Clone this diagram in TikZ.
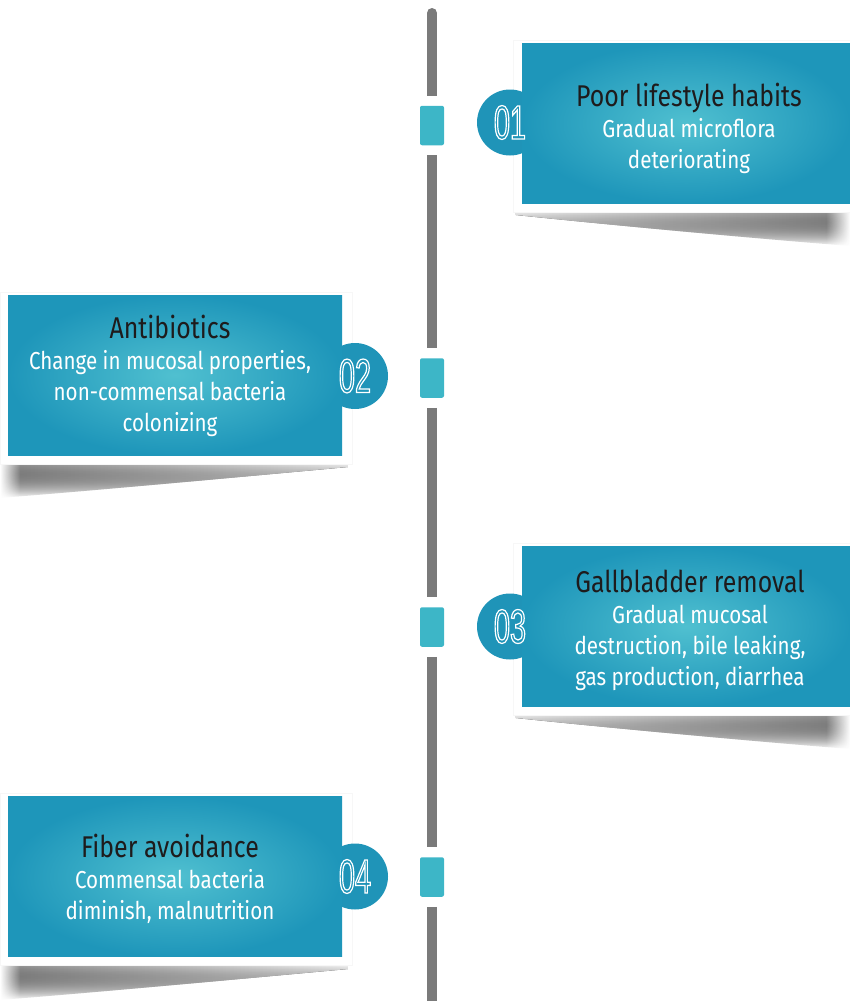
\documentclass[tikz,border=0pt]{standalone}
\usepackage{fontspec}
\newfontfamily\titlefont{Fira Sans}[FakeStretch=0.83]
\newfontfamily\subfont{Fira Sans}[FakeStretch=0.84]
\newfontfamily\numfont{Liberation Sans}[FakeStretch=0.6]
\usetikzlibrary{fadings}
\definecolor{boxouter}{HTML}{1E96BA}
\definecolor{boxinner}{HTML}{50C0D0}
\definecolor{circ}{HTML}{1F94B8}
\definecolor{sqc}{HTML}{3DB6C7}
\definecolor{linec}{HTML}{7A7A7A}
\definecolor{titlec}{HTML}{1E1B1C}
\newcommand\outlinedigits[1]{\special{pdf:literal direct 1 Tr 1.2 w}#1\special{pdf:literal direct 0 Tr}}
\tikzset{
  tl/.style={draw=linec, line width=10pt, line cap=butt},
  sqbox/.style={rectangle, rounded corners=2pt, fill=sqc, minimum width=24pt, minimum height=39.5pt, inner sep=0pt},
  card/.style={rectangle, fill=white, draw=black!3, line width=0.6pt, minimum width=337pt, minimum height=172pt, inner sep=0pt},
  lcard/.style={card, minimum width=352pt},
  box/.style={rectangle, inner color=boxinner, outer color=boxouter, minimum width=328pt, minimum height=160pt, inner sep=0pt},
  lbox/.style={box, minimum width=334pt},
  numcirc/.style={circle, fill=circ, minimum size=66pt, inner sep=0pt},
  numtext/.style={text=white, font=\numfont\fontsize{48}{48}\selectfont, inner sep=0pt},
  txt/.style={align=center, inner sep=0pt, text=white, font=\subfont\fontsize{24.5}{31}\selectfont},
  rshadow/.style={left color=black!8, right color=black!45, path fading=south},
  lshadow/.style={left color=black!45, right color=black!8, path fading=south},
}
\newcommand\ttl[1]{{\titlefont\fontsize{30}{31}\selectfont\color{titlec}#1}}
\begin{document}
\begin{tikzpicture}[x=1pt,y=-1pt]
\useasboundingbox (0,0) rectangle (850,1001);
% timeline squares
\node[sqbox] (sq1) at (432,125.5) {};
\node[sqbox] (sq2) at (432,378) {};
\node[sqbox] (sq3) at (432,627) {};
\node[sqbox] (sq4) at (432,877) {};
\coordinate (top) at (432,13);
\coordinate (bot) at (432,1001);
\fill[linec] (top) circle (5pt);
\draw[tl] (top) -- ([yshift=10pt]sq1.north);
\draw[tl] ([yshift=-10pt]sq1.south) -- ([yshift=10pt]sq2.north);
\draw[tl] ([yshift=-10pt]sq2.south) -- ([yshift=10pt]sq3.north);
\draw[tl] ([yshift=-10pt]sq3.south) -- ([yshift=10pt]sq4.north);
\draw[tl] ([yshift=-10pt]sq4.south) -- (bot);
% shadows
\fill[rshadow] (516,212) -- (850,212) -- (850,246) .. controls (750,238) and (620,226) .. (516,215) -- cycle;
\fill[rshadow] (516,715) -- (850,715) -- (850,749) .. controls (750,741) and (620,729) .. (516,718) -- cycle;
\fill[lshadow] (0,464) -- (348,464) -- (348,467) .. controls (230,478) and (100,490) .. (0,498) -- cycle;
\fill[lshadow] (0,966) -- (348,966) -- (348,969) .. controls (230,980) and (100,992) .. (0,1000) -- cycle;
\fill[white, path fading=west] (826,208) rectangle (850,256);
\fill[white, path fading=west] (826,711) rectangle (850,759);
\fill[white, path fading=east] (0,460) rectangle (20,508);
\fill[white, path fading=east] (0,962) rectangle (20,1001);
% cards
\node[card] (k1) at (681.5,126) {};
\node[lcard] (k2) at (176,378) {};
\node[card] (k3) at (681.5,629) {};
\node[lcard] (k4) at (176,879.5) {};
% circles
\node[numcirc] (c1) at (510,122.5) {};
\node[numcirc] (c2) at (355,376) {};
\node[numcirc] (c3) at (510,626.5) {};
\node[numcirc] (c4) at (355,876.5) {};
% boxes
\node[box] (b1) at (686,123) {};
\node[lbox] (b2) at (175,375) {};
\node[box] (b3) at (686,626) {};
\node[lbox] (b4) at (175,876.5) {};
% numbers
\node[numtext] (n1) at (c1.center) {\outlinedigits{01}};
\node[numtext] (n2) at (c2.center) {\outlinedigits{02}};
\node[numtext] (n3) at (c3.center) {\outlinedigits{03}};
\node[numtext] (n4) at (c4.center) {\outlinedigits{04}};
% texts
\node[txt] (t1) at (689,128) {\ttl{Poor lifestyle habits}\\Gradual microflora\\deteriorating};
\node[txt] (t2) at (170,376) {\ttl{Antibiotics}\\Change in mucosal properties,\\non-commensal bacteria\\colonizing};
\node[txt] (t3) at (690,630) {\ttl{Gallbladder removal}\\Gradual mucosal\\destruction, bile leaking,\\gas production, diarrhea};
\node[txt] (t4) at (170,879) {\ttl{Fiber avoidance}\\Commensal bacteria\\diminish, malnutrition};
\end{tikzpicture}
\end{document}
